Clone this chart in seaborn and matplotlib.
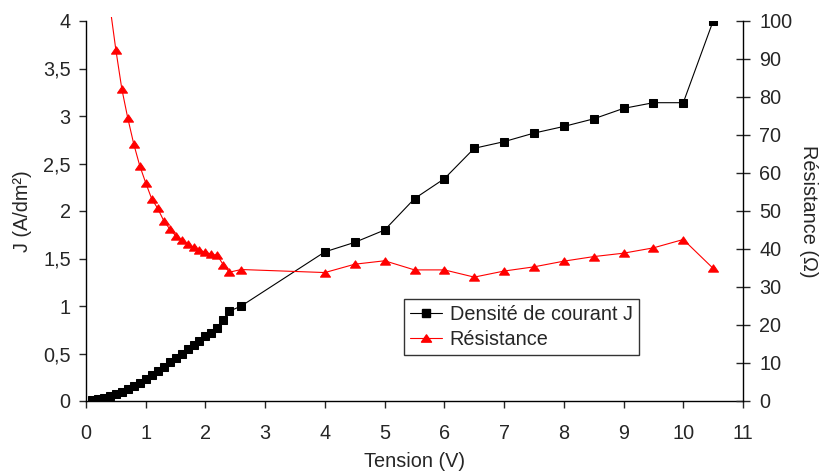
import matplotlib
matplotlib.use("Agg")
import matplotlib.pyplot as plt
import seaborn as sns
import pandas as pd
from matplotlib.ticker import FuncFormatter, MultipleLocator
from matplotlib.lines import Line2D
from matplotlib.path import Path
from matplotlib.transforms import Bbox, TransformedBbox

# ---- data ----
tension_j = [0.1, 0.2, 0.3, 0.4, 0.5, 0.6, 0.7, 0.8, 0.9, 1.0, 1.1, 1.2, 1.3, 1.4,
             1.5, 1.6, 1.7, 1.8, 1.9, 2.0, 2.1, 2.2, 2.3, 2.4, 2.6,
             4.0, 4.5, 5.0, 5.5, 6.0, 6.5, 7.0, 7.5, 8.0, 8.5, 9.0, 9.5, 10.0, 10.5]
densite_j = [0.01, 0.02, 0.035, 0.05, 0.07, 0.095, 0.125, 0.155, 0.19, 0.23, 0.27,
             0.315, 0.36, 0.41, 0.455, 0.5, 0.545, 0.59, 0.635, 0.68, 0.72, 0.765,
             0.855, 0.945, 1.0,
             1.57, 1.67, 1.80, 2.13, 2.34, 2.66, 2.73, 2.82, 2.89, 2.97, 3.08, 3.14,
             3.14, 4.0]

tension_r = [0.4, 0.5, 0.6, 0.7, 0.8, 0.9, 1.0, 1.1, 1.2, 1.3, 1.4, 1.5, 1.6, 1.7,
             1.8, 1.9, 2.0, 2.1, 2.2, 2.3, 2.4, 2.6,
             4.0, 4.5, 5.0, 5.5, 6.0, 6.5, 7.0, 7.5, 8.0, 8.5, 9.0, 9.5, 10.0, 10.5]
resistance = [104.0, 92.4, 82.1, 74.4, 67.6, 61.9, 57.4, 53.2, 50.7, 47.5, 45.3,
              43.5, 42.4, 41.2, 40.4, 39.7, 39.1, 38.6, 38.3, 35.8, 33.9, 34.6,
              33.8, 36.0, 36.9, 34.5, 34.5, 32.6, 34.2, 35.3, 36.8, 38.0, 38.9,
              40.3, 42.5, 34.9]

x_ticks = list(range(0, 12))
label_j = "Densité de courant J"
label_r = "Résistance"

df_j = pd.DataFrame({"Tension": tension_j, "J": densite_j})
df_r = pd.DataFrame({"Tension": tension_r, "R": resistance})

FS = 14.3
sns.set_style("ticks")
plt.rcParams["font.family"] = ["Liberation Sans", "DejaVu Sans"]
plt.rcParams["font.size"] = FS

# wide, flat triangle marker (as in the Excel original)
tri = Path([(-1.0, -0.73), (1.0, -0.73), (0.0, 0.73), (-1.0, -0.73)],
           [Path.MOVETO, Path.LINETO, Path.LINETO, Path.CLOSEPOLY])

fig = plt.figure(figsize=(8.22, 4.74), dpi=100)
ax = fig.add_axes([86 / 822, 1 - 401 / 474, (743 - 86) / 822, (401 - 21) / 474])
ax2 = ax.twinx()

sns.lineplot(data=df_j, x="Tension", y="J", ax=ax, color="black", marker="s",
             markersize=5.6, markeredgecolor="black", linewidth=0.8,
             sort=False, estimator=None, errorbar=None, legend=False)
sns.lineplot(data=df_r, x="Tension", y="R", ax=ax2, color="#ff0000", marker=tri,
             markersize=7.2, markeredgecolor="#ff0000", linewidth=0.8,
             sort=False, estimator=None, errorbar=None, legend=False)

ax.set_xlim(0, 11)
ax.set_ylim(0, 4)
ax2.set_ylim(0, 100)

# plot area slightly taller than the axis range, as in the original
for ln in ax2.lines:
    ln.set_clip_box(TransformedBbox(Bbox([[0, -0.01], [1, 1.011]]), ax2.transAxes))

ax.set_xticks(x_ticks)
ax.yaxis.set_major_locator(MultipleLocator(0.5))
ax2.yaxis.set_major_locator(MultipleLocator(10))
comma = FuncFormatter(lambda v, p: f"{v:g}".replace(".", ","))
ax.yaxis.set_major_formatter(comma)

for s in ["top", "right"]:
    ax.spines[s].set_visible(False)
for s in ["top", "left", "bottom"]:
    ax2.spines[s].set_visible(False)
for a in (ax, ax2):
    for s in a.spines.values():
        s.set_linewidth(1.0)
        s.set_color("black")

ax.tick_params(axis="y", direction="out", length=4.7, width=1, pad=6.3, labelsize=FS)
ax.tick_params(axis="x", direction="out", length=4.7, width=1, pad=12, labelsize=FS)
ax2.tick_params(axis="y", direction="inout", length=10, width=1, pad=6.8, labelsize=FS)

ax.set_xlabel("Tension (V)", fontsize=FS, labelpad=6.5)
ax.set_ylabel("J (A/dm²)", fontsize=FS, labelpad=8)
ax2.set_ylabel("Résistance (Ω)", fontsize=FS, rotation=270, labelpad=18)

handles = [
    Line2D([], [], color="black", marker="s", markersize=5.6, linewidth=0.8),
    Line2D([], [], color="#ff0000", marker=tri, markersize=7.2, linewidth=0.8),
]
leg = ax2.legend(handles, [label_j, label_r], loc="lower left",
                 bbox_to_anchor=(0.484, 0.121), frameon=True, fancybox=False,
                 edgecolor="black", fontsize=FS, handlelength=1.6,
                 handletextpad=0.4, borderpad=0.3, labelspacing=0.3,
                 borderaxespad=0)
leg.get_frame().set_linewidth(1.0)

fig.savefig("out.png", dpi=100)
